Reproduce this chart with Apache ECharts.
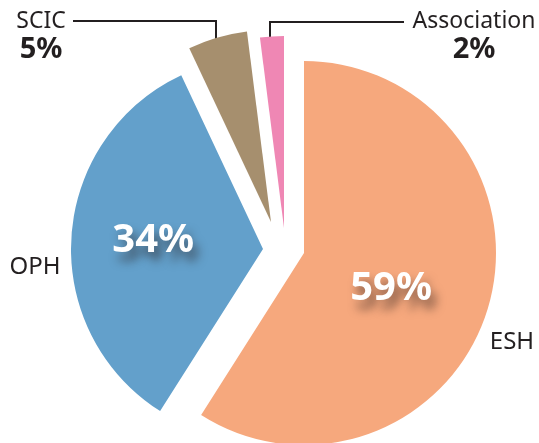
<!DOCTYPE html>
<html>
<head>
<meta charset="utf-8">
<script src="https://cdn.jsdelivr.net/npm/echarts@6/dist/echarts.min.js"></script>
<style>
  html, body { margin: 0; padding: 0; background: #fff; }
  #chart { width: 539px; height: 443px; }
</style>
</head>
<body>
<div id="chart"></div>
<script>
const names = ['ESH', 'OPH', 'SCIC', 'Association'];
const values = [59, 34, 5, 2];
const colors = ['#F6A87D', '#63A0CB', '#A68F6E', '#EF87B4'];

// tip of every pulled-out slice (px) and the shared radius
const centers = [[304, 253], [263, 249], [271, 222], [284, 228]];
const R = 192;
const INK = '#231F20';
const FONT = 'Noto Sans';

const chart = echarts.init(document.getElementById('chart'));

// big white number inside the slice
const pctLabel = {
  position: 'inside',
  formatter: '{c}%',
  color: '#fff',
  fontFamily: FONT,
  fontWeight: 'bold',
  fontSize: 40,
  textShadowColor: 'rgba(40,30,30,0.55)',
  textShadowBlur: 10,
  textShadowOffsetX: 5,
  textShadowOffsetY: 9
};
// plain name beside the slice
const nameLabel = {
  position: 'outside',
  formatter: '{b}',
  color: INK,
  fontFamily: FONT,
  fontSize: 24
};
// name + bold percent, with an elbow leader line
const calloutLabel = {
  position: 'outside',
  formatter: '{n|{b}}\n{p|{c}%}',
  color: INK,
  fontFamily: FONT,
  align: 'center',
  rich: {
    n: { fontSize: 23, lineHeight: 26, color: INK, fontFamily: FONT, align: 'center' },
    p: { fontSize: 29, lineHeight: 31, fontWeight: 'bold', color: INK, fontFamily: FONT, align: 'center' }
  }
};

// one pie per slice so each slice can be pulled out by its own amount
function slicePie(k, fill, label, layout, withLine) {
  return {
    type: 'pie',
    center: centers[k],
    radius: [0, R],
    startAngle: 90,
    silent: true,
    animation: false,
    avoidLabelOverlap: false,
    data: names.map((n, i) => ({
      name: n,
      value: values[i],
      itemStyle: { color: (fill && i === k) ? colors[i] : 'rgba(0,0,0,0)' },
      label: { show: i === k },
      labelLine: { show: withLine && i === k }
    })),
    label: label,
    labelLine: { length: 10, length2: 10, lineStyle: { color: INK, width: 2 } },
    labelLayout: layout
  };
}

chart.setOption({
  backgroundColor: '#fff',
  series: [
    slicePie(0, true, pctLabel, { dx: -8, dy: 8 }, false),
    slicePie(1, true, pctLabel, { dx: -11, dy: -2 }, false),
    slicePie(2, true, calloutLabel, {
      x: 41, y: 8, align: 'center', verticalAlign: 'top',
      labelLinePoints: [[73, 21], [216, 21], [216, 57]]
    }, true),
    slicePie(3, true, calloutLabel, {
      x: 474, y: 8, align: 'center', verticalAlign: 'top',
      labelLinePoints: [[404, 22], [270, 22], [270, 52]]
    }, true),
    slicePie(0, false, nameLabel, { x: 512, y: 342, align: 'center', verticalAlign: 'middle' }, false),
    slicePie(1, false, nameLabel, { x: 35, y: 267, align: 'center', verticalAlign: 'middle' }, false)
  ]
});
</script>
</body>
</html>
